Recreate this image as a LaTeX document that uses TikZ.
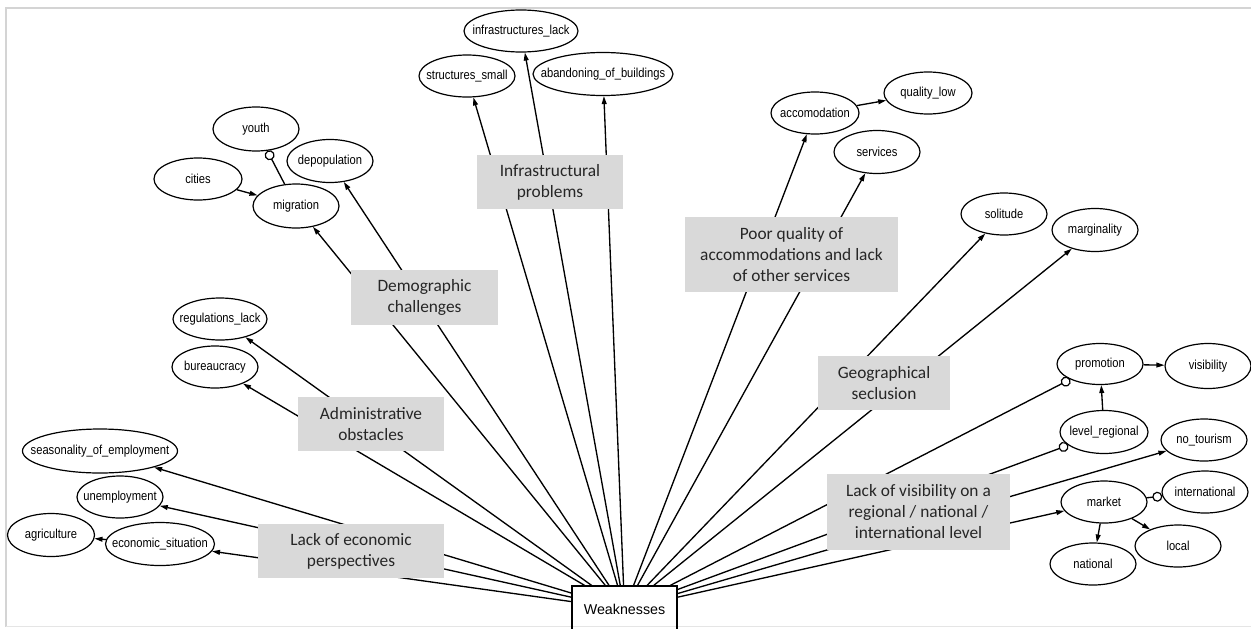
\documentclass[tikz,border=0pt]{standalone}
\usepackage{fontspec}
\setmainfont{Liberation Sans}
\newfontfamily\elfont[FakeStretch=0.86]{Liberation Sans}
\newfontfamily\catfont{Carlito}
\usetikzlibrary{shapes.geometric,arrows.meta}
\definecolor{catgray}{HTML}{D9D9D9}
\definecolor{framegray}{HTML}{D4D4D4}
\begin{document}
\begin{tikzpicture}[x=0.75pt,y=-0.75pt,
  ell/.style 2 args={ellipse,draw,line width=0.9pt,inner sep=0pt,
    minimum width=#1*0.75pt,minimum height=#2*0.75pt},
  lt/.style={inner sep=0pt,font=\elfont\fontsize{9.75}{11}\selectfont},
  cat/.style 2 args={fill=catgray,inner sep=0pt,align=center,
    minimum width=#1*0.75pt,minimum height=#2*0.75pt,
    font=\catfont\fontsize{13}{15.75}\selectfont,text=black!85},
  arr/.style={line width=1pt,-{Triangle[length=6pt,width=3.6pt]}},
  circ/.style={line width=1pt,-{Circle[open,length=7.5pt,line width=0.9pt]}}]
\useasboundingbox (0,0) rectangle (1251,628);
% frame
\draw[framegray,line width=1.2pt] (6,626.5) -- (6,8) -- (1251,8);
\draw[framegray!60,line width=0.8pt] (6,626.5) -- (1251,626.5);

% root
\node[draw,line width=0.9pt,minimum width=105*0.75pt,minimum height=46*0.75pt,inner sep=0pt,
  font=\fontsize{10.7}{12}\selectfont] (W) at (624.5,609) {Weaknesses};

% ellipses
\node[ell={86}{44},label={[lt]center:youth}] (youth) at (256,129) {};
\node[ell={86}{43},label={[lt]center:depopulation}] (depop) at (330,161) {};
\node[ell={88}{42},label={[lt]center:cities}] (cities) at (198,179) {};
\node[ell={86}{44},label={[lt]center:migration}] (migr) at (296,206) {};
\node[ell={114}{42},label={[lt]center:infrastructures\_lack}] (infl) at (521,31) {};
\node[ell={96}{42},label={[lt]center:structures\_small}] (strs) at (467,76) {};
\node[ell={140}{43},label={[lt]center:abandoning\_of\_buildings}] (aban) at (603,74) {};
\node[ell={88}{42},label={[lt]center:accomodation}] (acco) at (815,113) {};
\node[ell={88}{42},label={[lt]center:quality\_low}] (qual) at (928,93) {};
\node[ell={86}{43},label={[lt]center:services}] (serv) at (877,152) {};
\node[ell={86}{42},label={[lt]center:solitude}] (soli) at (1004,214) {};
\node[ell={86}{43},label={[lt]center:marginality}] (marg) at (1095,230) {};
\node[ell={86}{41},label={[lt]center:promotion}] (prom) at (1100,364) {};
\node[ell={86}{45},label={[lt]center:visibility}] (visi) at (1208,366) {};
\node[ell={88}{43},label={[lt]center:level\_regional}] (levr) at (1104,432) {};
\node[ell={86}{42},label={[lt]center:no\_tourism}] (notr) at (1204,440) {};
\node[ell={86}{42},label={[lt]center:market}] (mark) at (1104,502) {};
\node[ell={86}{42},label={[lt]center:international}] (intl) at (1205,492) {};
\node[ell={86}{42},label={[lt]center:local}] (locl) at (1178,546) {};
\node[ell={86}{42},label={[lt]center:national}] (natl) at (1093,564) {};
\node[ell={94}{42},label={[lt]center:regulations\_lack}] (regl) at (220,319) {};
\node[ell={86}{42},label={[lt]center:bureaucracy}] (bure) at (215,367) {};
\node[ell={155}{44},label={[lt]center:seasonality\_of\_employment}] (seas) at (100,451) {};
\node[ell={86}{42},label={[lt]center:unemployment}] (unem) at (120,497) {};
\node[ell={87}{43},label={[lt]center:agriculture}] (agri) at (51,535) {};
\node[ell={109}{43},label={[lt]center:economic\_situation}] (econ) at (160,544) {};

% edges from root
\foreach \t in {econ,unem,seas,bure,regl,migr,depop,strs,infl,aban,acco,serv,soli,marg,notr,mark}
  \draw[arr] (W) -- (\t);
\draw[circ] (W) -- (prom);
\draw[circ] (W) -- (levr);

% other edges
\draw[arr] (econ) -- (agri);
\draw[arr] (cities) -- (migr);
\draw[circ] (migr) -- (youth);
\draw[arr] (acco) -- (qual);
\draw[arr] (prom) -- (visi);
\draw[arr] (levr) -- (prom);
\draw[circ] (mark) -- (intl);
\draw[arr] (mark) -- (natl);
\draw[arr] (mark) -- (locl);

% category boxes
\node[cat={147}{55}] (cdem) at (424.5,297.5) {Demographic\\challenges};
\node[cat={146}{54}] (cinf) at (550,182) {Infrastructural\\problems};
\node[cat={213}{75}] (cpoor) at (791.5,254.5) {Poor quality of\\accommodations and lack\\of other services};
\node[cat={132}{54}] (cgeo) at (884,383) {Geographical\\seclusion};
\node[cat={183}{76}] (cvis) at (918.5,512) {Lack of visibility on a\\regional / national /\\international level};
\node[cat={146}{54}] (cadm) at (371,424) {Administrative\\obstacles};
\node[cat={186}{54}] (ceco) at (351,551) {Lack of economic\\perspectives};
\end{tikzpicture}
\end{document}
